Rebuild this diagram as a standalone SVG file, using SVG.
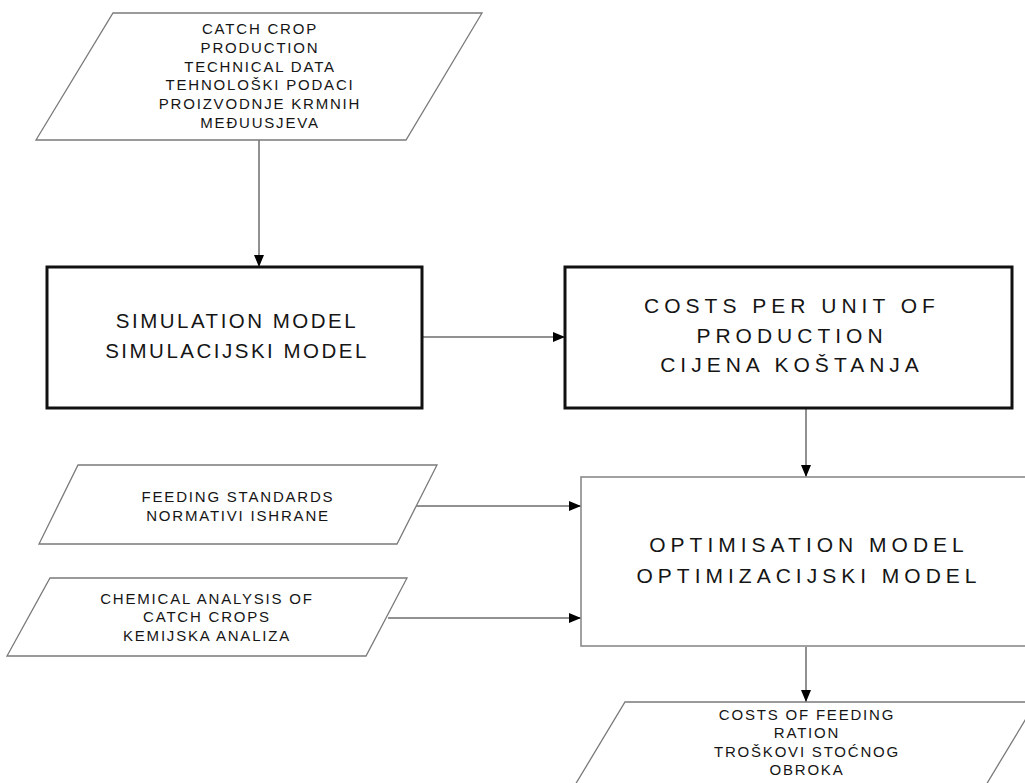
<svg xmlns="http://www.w3.org/2000/svg" width="1025" height="783" viewBox="0 0 1025 783">
<style>
.para{fill:#fff;stroke:#7a7a7a;stroke-width:1.3}
.thick{fill:#fff;stroke:#111;stroke-width:3}
.thin{fill:#fff;stroke:#8a8a8a;stroke-width:1.6}
.conn{fill:none;stroke:#222;stroke-width:1}
text{font-family:"Liberation Sans",Arial,sans-serif;fill:#151515;text-anchor:middle}
.s{font-size:15px;letter-spacing:1.8px}
.b{font-size:20.5px;letter-spacing:2.5px}
.c{font-size:21px;letter-spacing:5px}
</style>
<defs>
<marker id="ah" viewBox="0 0 12 10" refX="12" refY="5" markerWidth="12" markerHeight="10" markerUnits="userSpaceOnUse" orient="auto">
<path d="M0,0 L12,5 L0,10 Z" fill="#000"/>
</marker>
</defs>
<rect width="1025" height="783" fill="#fff"/>
<g id="connectors">
<line class="conn" x1="259" y1="140" x2="259" y2="267" marker-end="url(#ah)"/>
<line class="conn" x1="423" y1="337" x2="565" y2="337" marker-end="url(#ah)"/>
<line class="conn" x1="806" y1="409" x2="806" y2="477" marker-end="url(#ah)"/>
<line class="conn" x1="416" y1="506" x2="581" y2="506" marker-end="url(#ah)"/>
<line class="conn" x1="388" y1="618" x2="581" y2="618" marker-end="url(#ah)"/>
<line class="conn" x1="806" y1="647" x2="806" y2="702" marker-end="url(#ah)"/>
</g>
<g id="catch-crop-data">
<polygon class="para" points="113,13 482,13 406,140 36,140"/>
<text class="s" x="260" y="34">CATCH CROP</text>
<text class="s" x="260" y="53">PRODUCTION</text>
<text class="s" x="260" y="72">TECHNICAL DATA</text>
<text class="s" x="260" y="90">TEHNOLOŠKI PODACI</text>
<text class="s" x="260" y="109">PROIZVODNJE KRMNIH</text>
<text class="s" x="260" y="128">MEĐUUSJEVA</text>
</g>
<g id="simulation-model">
<rect class="thick" x="47" y="267" width="375" height="141"/>
<text class="b" x="237" y="328">SIMULATION MODEL</text>
<text class="b" x="237" y="358">SIMULACIJSKI MODEL</text>
</g>
<g id="costs-per-unit">
<rect class="thick" x="565" y="267" width="447" height="141"/>
<text class="c" x="792" y="313">COSTS PER UNIT OF</text>
<text class="c" x="792" y="343">PRODUCTION</text>
<text class="c" x="792" y="372">CIJENA KOŠTANJA</text>
</g>
<g id="feeding-standards">
<polygon class="para" points="78,465 437,465 397,544 39,544"/>
<text class="s" x="238" y="502">FEEDING STANDARDS</text>
<text class="s" x="238" y="521">NORMATIVI ISHRANE</text>
</g>
<g id="chemical-analysis">
<polygon class="para" points="50,578 407,578 366,656 7,656"/>
<text class="s" x="207" y="604">CHEMICAL ANALYSIS OF</text>
<text class="s" x="207" y="622">CATCH CROPS</text>
<text class="s" x="207" y="641">KEMIJSKA ANALIZA</text>
</g>
<g id="optimisation-model">
<rect class="thin" x="581" y="477" width="460" height="169"/>
<text class="c" x="809" y="552">OPTIMISATION MODEL</text>
<text class="c" x="809" y="583">OPTIMIZACIJSKI MODEL</text>
</g>
<g id="costs-of-feeding">
<polygon class="para" points="625,702 1036,702 983,790 572,790"/>
<text class="s" x="807" y="720">COSTS OF FEEDING</text>
<text class="s" x="807" y="738">RATION</text>
<text class="s" x="807" y="757">TROŠKOVI STOĆNOG</text>
<text class="s" x="807" y="775">OBROKA</text>
</g>
</svg>
